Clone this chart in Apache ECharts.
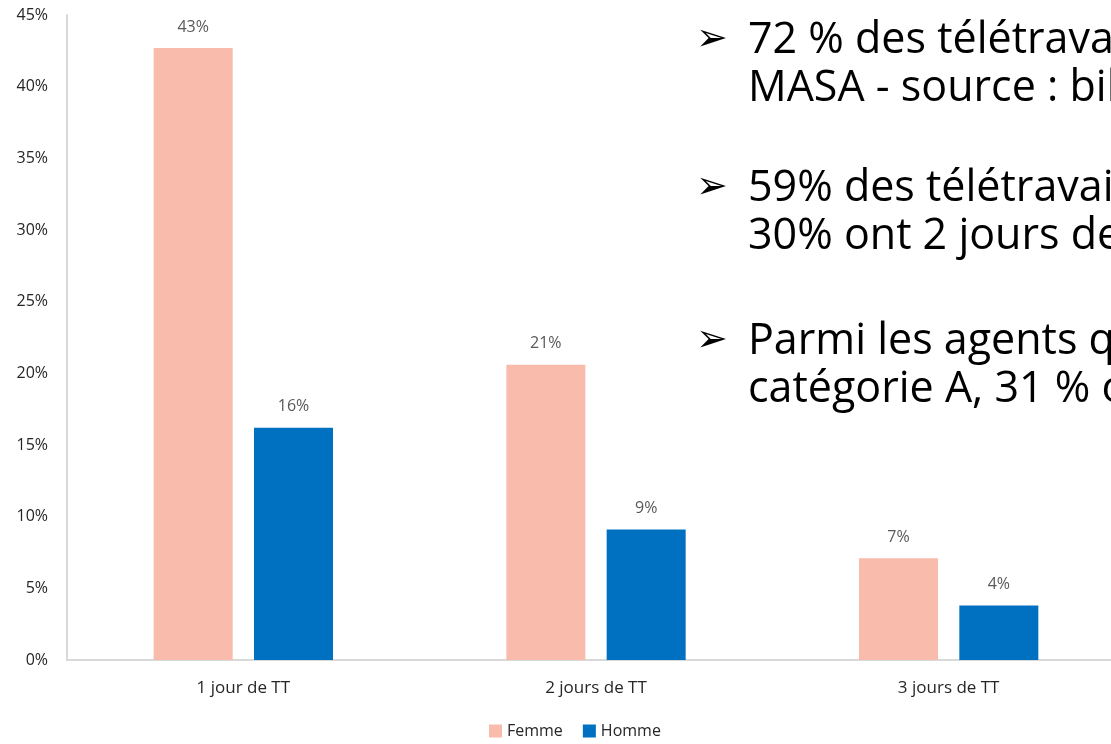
<!DOCTYPE html>
<html>
<head>
<meta charset="utf-8">
<script src="https://cdn.jsdelivr.net/npm/echarts@6/dist/echarts.min.js"></script>
<style>
  html, body { margin: 0; padding: 0; background: #fff; overflow: hidden; }
  #chart { width: 1125px; height: 744px; }
</style>
</head>
<body>
<div id="chart"></div>
<script>
const categories = ['1 jour de TT', '2 jours de TT', '3 jours de TT']
const femme = [42.7, 20.6, 7.1]
const homme = [16.2, 9.1, 3.8]
const yTicks = [0, 5, 10, 15, 20, 25, 30, 35, 40, 45]

// texte de la diapositive qui recouvre le graphique
const bullets = [
  ['72 % des télétravailleurs', 'MASA - source : bilan'],
  ['59% des télétravailleurs', '30% ont 2 jours de'],
  ['Parmi les agents qui', 'catégorie A, 31 % ont']
]
const bulletTops = [17, 165, 318]

const labelFont = 'Open Sans'
const chart = echarts.init(document.getElementById('chart'))

const graphics = []
bullets.forEach((lines, i) => {
  graphics.push({
    type: 'text', left: 696, top: bulletTops[i] + 4,
    style: { text: '➢', font: '38px "DejaVu Sans"', fill: '#000' }
  })
  graphics.push({
    type: 'text', left: 748, top: bulletTops[i],
    style: { text: lines.join('\n'), font: '43px "Open Sans"', lineHeight: 48, fill: '#000' }
  })
})

chart.setOption({
  animation: false,
  grid: { left: 67, right: 0, top: 15, bottom: 84 },
  legend: {
    bottom: 0,
    left: 484,
    itemWidth: 13,
    itemHeight: 13,
    itemGap: 20,
    icon: 'rect',
    textStyle: { fontFamily: labelFont, fontSize: 16, color: '#262626' },
    data: ['Femme', 'Homme']
  },
  xAxis: {
    type: 'category',
    data: categories,
    axisLine: { lineStyle: { color: '#D9D9D9', width: 2 } },
    axisTick: { show: false },
    axisLabel: { fontFamily: labelFont, fontSize: 17, color: '#262626', margin: 20 }
  },
  yAxis: {
    type: 'value',
    min: yTicks[0],
    max: yTicks[yTicks.length - 1],
    interval: 5,
    axisLine: { show: true, lineStyle: { color: '#D9D9D9', width: 2 } },
    axisTick: { show: false },
    splitLine: { show: false },
    axisLabel: {
      fontFamily: labelFont, fontSize: 16, color: '#262626', margin: 19,
      formatter: v => v + '%'
    }
  },
  series: [{
    name: 'Femme',
    type: 'bar',
    data: femme,
    barWidth: 79,
    barGap: '27%',
    itemStyle: { color: '#F8BBAC' },
    label: {
      show: true, position: 'top', distance: 13,
      fontFamily: labelFont, fontSize: 16, color: '#595959',
      formatter: p => Math.round(p.value) + '%'
    }
  }, {
    name: 'Homme',
    type: 'bar',
    data: homme,
    barWidth: 79,
    itemStyle: { color: '#0070C0' },
    label: {
      show: true, position: 'top', distance: 13,
      fontFamily: labelFont, fontSize: 16, color: '#595959',
      formatter: p => Math.round(p.value) + '%'
    }
  }],
  graphic: graphics
})
</script>
</body>
</html>
